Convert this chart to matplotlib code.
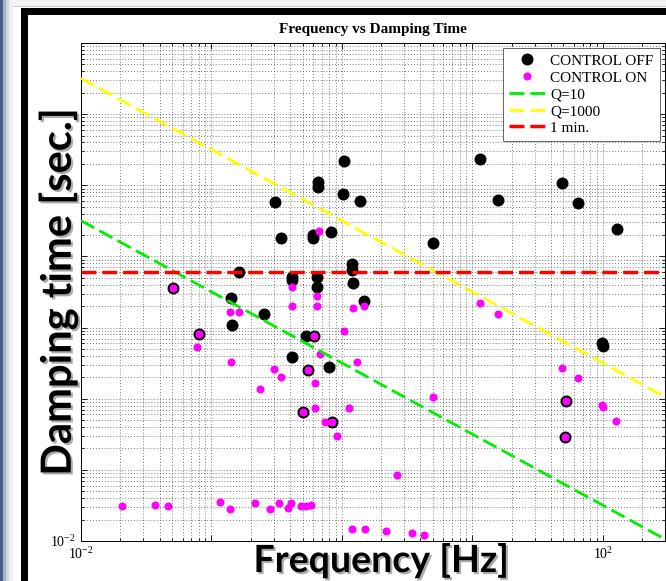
"""Frequency vs damping time scatter, control on/off, with Q reference lines."""

import matplotlib

matplotlib.use("Agg")

import matplotlib.pyplot as plt
import numpy as np
from matplotlib import patheffects
from matplotlib.patches import Rectangle
from matplotlib.ticker import FuncFormatter, LogLocator, NullFormatter

FIG_W = 666
FIG_H = 581

# measured modes, control off (frequency [Hz], damping time [s])
OFF_FREQ = [1.04, 0.655, 0.655, 1.02, 1.37, 0.307, 0.341, 0.600, 0.600, 0.824,
            0.163, 0.414, 0.414, 0.643, 1.19, 1.19, 0.643, 1.21, 0.0507, 0.141,
            0.1435, 0.252, 0.0801, 0.530, 0.610, 0.414, 0.548, 0.794, 0.502, 0.837,
            11.4, 48.5, 15.7, 64.3, 4.98, 128, 1.47, 98.2, 100, 52.0, 51.2]
OFF_TAU = [2200, 1110, 946, 755, 601, 582, 182, 200, 182, 221,
           60.4, 51.4, 46.6, 51.4, 78.3, 64.5, 37.2, 42.3, 36.0, 26.1,
           10.9, 15.5, 8.12, 7.62, 7.62, 3.86, 2.53, 2.79, 0.650, 0.471,
           2343, 1077, 621, 564, 155, 243, 23.6, 6.07, 5.51, 0.929, 0.290]

# measured modes, control on
ON_FREQ = [0.667, 0.0507, 0.414, 0.643, 0.414, 0.643, 1.21, 0.139, 0.163, 0.0801,
           0.0774, 0.141, 0.610, 1.04, 0.677, 0.548, 1.30, 0.301, 0.341, 0.236,
           0.621, 0.502, 0.621, 1.13, 0.741, 0.837, 0.916, 1.47, 11.4, 15.7,
           48.5, 64.3, 4.98, 52.0, 98.2, 100, 126, 51.2, 2.64,
           0.0206, 0.0369, 0.0465, 0.116, 0.139, 0.215, 0.281, 0.329, 0.385, 0.406,
           0.486, 0.530, 0.578, 1.19, 1.50, 2.17, 3.44, 4.25]
ON_TAU = [228, 36.0, 37.2, 27.8, 20.1, 20.1, 18.8, 16.6, 16.6, 8.12,
          5.33, 3.28, 7.62, 8.95, 4.25, 2.53, 3.28, 2.62, 2.02, 1.37,
          1.66, 0.650, 0.742, 0.742, 0.471, 0.471, 0.299, 20.1, 22.2, 15.5,
          2.70, 1.96, 1.06, 0.929, 0.817, 0.766, 0.487, 0.290, 0.0848,
          0.0310, 0.0321, 0.0310, 0.0353, 0.0282, 0.0342, 0.0282, 0.0342, 0.0291, 0.0342,
          0.0310, 0.0310, 0.0321, 0.0148, 0.0148, 0.0138, 0.0130, 0.0121]

Q_VALUES = [10, 1000]
Q_LABELS = ["Q=10", "Q=1000"]
Q_COLORS = ["#00ee00", "#ffff00"]
ONE_MINUTE = 60
FREQ_LIMITS = (1e-2, 300)
TAU_LIMITS = (1e-2, 1e5)
# decade labels left uncovered by the pasted slide labels
VISIBLE_X_LABELS = [1e-2, 1e2]
VISIBLE_Y_LABELS = [1e-2]


def px_box(fig, x0, y0, x1, y1, color, zorder=1):
    """Adds a filled rectangle given in pixel coordinates (top-left origin)."""
    fig.add_artist(Rectangle((x0 / FIG_W, 1 - y1 / FIG_H), (x1 - x0) / FIG_W, (y1 - y0) / FIG_H,
                             transform=fig.transFigure, facecolor=color, edgecolor="none", zorder=zorder))


def draw_slide_frame(fig):
    """Draws the slide background pieces around the plot."""
    px_box(fig, 0, 0, FIG_W, 6, "#f3f3f3")
    px_box(fig, 10, 6, FIG_W, 7, "#c8c8c8")
    px_box(fig, 0, 0, 3, FIG_H, "#46608a")
    px_box(fig, 3, 0, 6, FIG_H, "#a9b3c2")
    px_box(fig, 6, 0, 9, FIG_H, "#d3d8df")
    px_box(fig, 9, 0, 13, FIG_H, "#eceef1")
    px_box(fig, 21, 8, FIG_W, 15, "black")
    px_box(fig, 21, 8, 28, FIG_H, "black")


def decade_formatter(visible):
    """Labels only the listed decades."""
    def fmt(value, pos):
        if any(np.isclose(value, v) for v in visible):
            return rf"$\mathdefault{{10^{{{int(round(np.log10(value)))}}}}}$"
        return ""
    return FuncFormatter(fmt)


def main():
    plt.rcParams["font.family"] = ["Liberation Serif", "DejaVu Serif"]
    fig = plt.figure(figsize=(FIG_W / 100, FIG_H / 100), dpi=100)
    ax = fig.add_axes((81 / FIG_W, 40 / FIG_H, 584 / FIG_W, 498 / FIG_H))
    ax.set_xscale("log")
    ax.set_yscale("log")

    ax.plot(OFF_FREQ, OFF_TAU, "o", color="black", markersize=7.6, label="CONTROL OFF", zorder=3)
    ax.plot(ON_FREQ, ON_TAU, "o", color="#ff00ff", markersize=5.8, markeredgewidth=0, label="CONTROL ON", zorder=4)
    freq_ends = np.array(FREQ_LIMITS)
    for q, label, color in zip(Q_VALUES, Q_LABELS, Q_COLORS):
        ax.plot(freq_ends, q / (np.pi * freq_ends), color=color, linewidth=2, dashes=(5.4, 2.1), label=label, zorder=5)
    ax.plot(freq_ends, [ONE_MINUTE, ONE_MINUTE], color="red", linewidth=2.5, dashes=(4.3, 1.7), label="1 min.", zorder=5)

    ax.set_xlim(*FREQ_LIMITS)
    ax.set_ylim(*TAU_LIMITS)
    for axis, visible in ((ax.xaxis, VISIBLE_X_LABELS), (ax.yaxis, VISIBLE_Y_LABELS)):
        axis.set_major_locator(LogLocator(base=10, numticks=20))
        axis.set_minor_locator(LogLocator(base=10, subs=np.arange(2, 10), numticks=200))
        axis.set_major_formatter(decade_formatter(visible))
        axis.set_minor_formatter(NullFormatter())
    ax.tick_params(which="both", direction="in", top=True, right=True, labelsize=10, width=0.6)
    ax.tick_params(which="major", length=4)
    ax.tick_params(which="minor", length=2)
    ax.grid(True, which="both", linestyle=(0, (1, 2.5)), color="0.3", linewidth=0.6)
    for spine in ax.spines.values():
        spine.set_linewidth(0.7)
    ax.set_title("Frequency vs Damping Time", fontsize=11, fontweight="bold", pad=7)

    legend = ax.legend(loc="upper right", bbox_to_anchor=(0.991, 0.99), borderaxespad=0, fontsize=11,
                       handlelength=2.35, handletextpad=0.35, labelspacing=0.2, borderpad=0.4,
                       fancybox=False, framealpha=1, edgecolor="0.3")
    legend.get_frame().set_linewidth(0.6)

    draw_slide_frame(fig)

    # big labels pasted on the slide over the original axis labels
    shadow = [patheffects.SimplePatchShadow(offset=(1.5, -1.5), shadow_rgbFace="0.45", alpha=0.6), patheffects.Normal()]
    fig.text(58 / FIG_W, 1 - 292 / FIG_H, "Damping time [sec.]", rotation=90, ha="center", va="center",
             fontsize=30, fontweight="bold", family=["Lato", "DejaVu Sans"], path_effects=shadow, zorder=6)
    fig.text(381 / FIG_W, 1 - 572 / FIG_H, "Frequency [Hz]", ha="center", va="baseline",
             fontsize=27, fontweight="bold", family=["Lato", "DejaVu Sans"], path_effects=shadow, zorder=6)

    fig.savefig("out.png", dpi=100, facecolor="white")


if __name__ == "__main__":
    main()
